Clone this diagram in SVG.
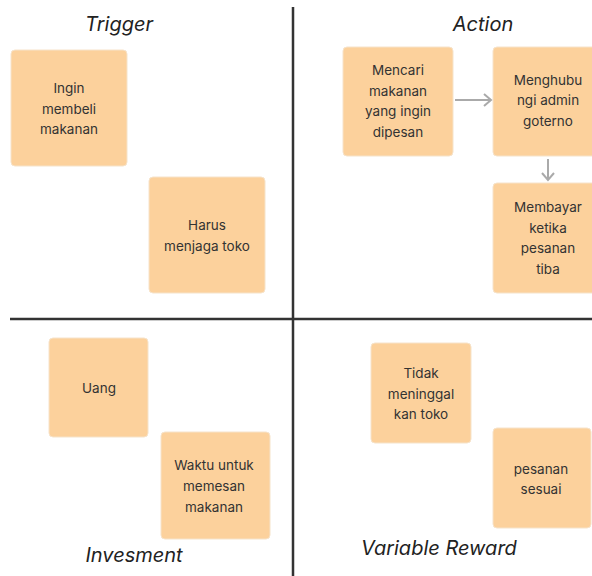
<svg xmlns="http://www.w3.org/2000/svg" width="592" height="576" viewBox="0 0 592 576">
<style>
.box{fill:#FCD19C;stroke:#F6E3CA;stroke-width:1}
.t{font-family:Inter,"Noto Sans",sans-serif;font-size:13.5px;fill:#333333;text-anchor:middle}
.h{font-family:Inter,"Noto Sans",sans-serif;font-size:20px;font-style:italic;fill:#222222;text-anchor:middle}
.div{stroke:#333333;stroke-width:2.5;fill:none}
.conn{stroke:#AAAAAA;stroke-width:2;fill:none}
</style>
<defs>
<marker id="arr" viewBox="0 0 14 14" refX="12" refY="7" markerWidth="14" markerHeight="14" markerUnits="userSpaceOnUse" orient="auto">
<path d="M5,1 L12,7 L5,13" fill="none" stroke="#AAAAAA" stroke-width="2"/>
</marker>
</defs>
<rect width="592" height="576" fill="#FFFFFF"/>
<g id="dividers">
<line class="div" x1="293" y1="7" x2="293" y2="576"/>
<line class="div" x1="10" y1="319" x2="592" y2="319"/>
</g>
<g id="headings">
<text class="h" x="119" y="31">Trigger</text>
<text class="h" x="483" y="31">Action</text>
<text class="h" x="134" y="562">Invesment</text>
<text class="h" x="439" y="555">Variable Reward</text>
</g>
<g id="n-ingin">
<rect class="box" x="11" y="50" width="116" height="116" rx="4"/>
<text class="t" x="69" y="93">Ingin</text>
<text class="t" x="69" y="114">membeli</text>
<text class="t" x="69" y="134">makanan</text>
</g>
<g id="n-harus">
<rect class="box" x="149" y="177" width="116" height="116" rx="4"/>
<text class="t" x="207" y="230">Harus</text>
<text class="t" x="207" y="251">menjaga toko</text>
</g>
<g id="n-mencari">
<rect class="box" x="343" y="47" width="110" height="109" rx="4"/>
<text class="t" x="398" y="75">Mencari</text>
<text class="t" x="398" y="96">makanan</text>
<text class="t" x="398" y="116">yang ingin</text>
<text class="t" x="398" y="137">dipesan</text>
</g>
<g id="n-menghubu">
<rect class="box" x="493" y="47" width="110" height="109" rx="4"/>
<text class="t" x="548" y="85">Menghubu</text>
<text class="t" x="548" y="105">ngi admin</text>
<text class="t" x="548" y="126">goterno</text>
</g>
<g id="n-membayar">
<rect class="box" x="493" y="183" width="110" height="110" rx="4"/>
<text class="t" x="548" y="212">Membayar</text>
<text class="t" x="548" y="233">ketika</text>
<text class="t" x="548" y="253">pesanan</text>
<text class="t" x="548" y="274">tiba</text>
</g>
<g id="n-uang">
<rect class="box" x="49" y="338" width="99" height="99" rx="4"/>
<text class="t" x="99" y="393">Uang</text>
</g>
<g id="n-waktu">
<rect class="box" x="161" y="432" width="109" height="107" rx="4"/>
<text class="t" x="214" y="470">Waktu untuk</text>
<text class="t" x="214" y="491">memesan</text>
<text class="t" x="214" y="512">makanan</text>
</g>
<g id="n-tidak">
<rect class="box" x="371" y="343" width="100" height="100" rx="4"/>
<text class="t" x="421" y="378">Tidak</text>
<text class="t" x="421" y="399">meninggal</text>
<text class="t" x="421" y="419">kan toko</text>
</g>
<g id="n-pesanan">
<rect class="box" x="493" y="428" width="98" height="100" rx="4"/>
<text class="t" x="541" y="474">pesanan</text>
<text class="t" x="541" y="494">sesuai</text>
</g>
<g id="connectors">
<line class="conn" x1="455" y1="100" x2="491" y2="100" marker-end="url(#arr)"/>
<line class="conn" x1="548" y1="159" x2="548" y2="180" marker-end="url(#arr)"/>
</g>
</svg>
